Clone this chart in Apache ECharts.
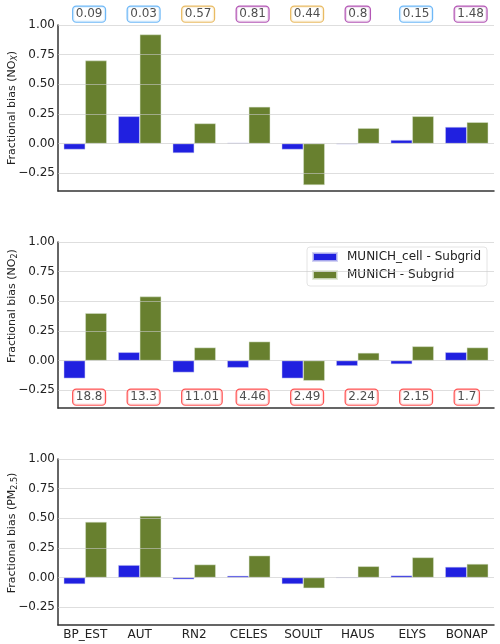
<!DOCTYPE html>
<html><head><meta charset="utf-8">
<script src="https://cdn.jsdelivr.net/npm/echarts@6/dist/echarts.min.js"></script>
<style>html,body{margin:0;padding:0;background:#fff}#c{width:500px;height:644px}</style>
</head><body><div id="c"></div>
<script>
const categories = ['BP_EST','AUT','RN2','CELES','SOULT','HAUS','ELYS','BONAP'];
const noxCell   = [-0.05, 0.23, -0.08, 0.005, -0.05, -0.005, 0.03, 0.14];
const noxMunich = [0.70, 0.92, 0.17, 0.31, -0.35, 0.13, 0.23, 0.18];
const no2Cell   = [-0.15, 0.07, -0.10, -0.06, -0.15, -0.045, -0.03, 0.07];
const no2Munich = [0.40, 0.54, 0.11, 0.16, -0.17, 0.065, 0.12, 0.11];
const pmCell    = [-0.055, 0.105, -0.015, 0.015, -0.055, 0.0, 0.017, 0.09];
const pmMunich  = [0.47, 0.52, 0.11, 0.185, -0.09, 0.095, 0.17, 0.115];
const topLabels = ['0.09','0.03','0.57','0.81','0.44','0.8','0.15','1.48'];
const topLabelGroup = ['blue','blue','gold','purple','gold','purple','blue','purple'];
const topLabelY = 1.1;
const no2Labels = ['18.8','13.3','11.01','4.46','2.49','2.24','2.15','1.7'];
const no2LabelY = -0.3;
const yTicks = [-0.25, 0, 0.25, 0.5, 0.75, 1.0];
const yMin = -0.4, yMax = 1.0;
const seriesNames = ['MUNICH_cell - Subgrid', 'MUNICH - Subgrid'];

const BLUE = '#2020e0', GREEN = '#68802f';
const boxColors = {blue:'#4aa6f5', gold:'#e3aa3c', purple:'#a02ca3', red:'#ff2a2a'};
const FONT = 'DejaVu Sans';
const tops = [25, 242, 459];
const nameShift = [0, 38, 18];
const panels = [
  {cell: noxCell, mun: noxMunich, title: 'Fractional bias (NO{ital|X}{a|)}'},
  {cell: no2Cell, mun: no2Munich, title: 'Fractional bias (NO{sub|2}{a|)}'},
  {cell: pmCell,  mun: pmMunich,  title: 'Fractional bias (PM{sub|2.5}{a|)}'}
];
const fmt = v => { const s = v.toFixed(2); return s.replace('-', '\u2212'); };

const grid = [], xAxis = [], yAxis = [], series = [];
panels.forEach((p, i) => {
  grid.push({left: 58, right: 6, top: tops[i], height: 166, containLabel: false, outerBoundsMode: 'none'});
  xAxis.push({
    type: 'category', gridIndex: i, data: categories, boundaryGap: true,
    axisLine: {onZero: false, lineStyle: {color: '#333', width: 1.5}},
    axisTick: {show: false},
    axisLabel: {show: i === 2, color: '#222', fontFamily: FONT, fontSize: 12, margin: 4, interval: 0}
  });
  yAxis.push({
    type: 'value', gridIndex: i, min: yMin, max: yMax,
    axisLine: {show: true, lineStyle: {color: '#333', width: 1.5}},
    axisTick: {show: false},
    splitLine: {show: false},
    axisLabel: {customValues: yTicks, formatter: fmt, color: '#222', fontFamily: FONT, fontSize: 12, margin: 3},
    name: p.title, nameLocation: 'middle', nameGap: 46, nameMoveOverlap: false,
    nameTextStyle: {color: '#222', fontFamily: FONT, fontSize: 11, verticalAlign: 'middle',
      padding: [0, 0, 0, nameShift[i]],
      rich: {
        a: {fontFamily: FONT, fontSize: 11, color: '#222'},
        sub: {fontFamily: FONT, fontSize: 8, color: '#222', padding: [5, 0, 0, 0]},
        ital: {fontFamily: FONT, fontSize: 8, fontStyle: 'italic', color: '#222', padding: [5, 0, 0, 0]}
      }}
  });
  series.push({
    name: seriesNames[0], type: 'bar', xAxisIndex: i, yAxisIndex: i, data: p.cell,
    barWidth: '39.5%', barGap: '0%',
    itemStyle: {color: BLUE, borderColor: 'rgba(200,200,240,0.8)', borderWidth: 0.6}
  });
  series.push({
    name: seriesNames[1], type: 'bar', xAxisIndex: i, yAxisIndex: i, data: p.mun,
    barWidth: '39.5%', barGap: '0%',
    itemStyle: {color: GREEN, borderColor: 'rgba(220,230,210,0.8)', borderWidth: 0.6},
    markLine: {
      silent: true, symbol: 'none', label: {show: false}, animation: false,
      lineStyle: {color: 'rgba(200,200,200,0.6)', type: 'solid', width: 1},
      data: yTicks.map(v => ({yAxis: v}))
    }
  });
});

const annLabel = {show: true, position: 'inside', align: 'left', offset: [-12, 1],
  fontFamily: FONT, fontSize: 12, color: '#222', backgroundColor: '#fff',
  borderWidth: 1.2, borderRadius: 3, padding: [2, 2.5, 1, 2.5]};

series.push({
  name: 'topAnn', type: 'scatter', xAxisIndex: 0, yAxisIndex: 0, symbolSize: 0, clip: false, silent: true,
  data: topLabels.map((t, k) => ({
    value: [categories[k], topLabelY],
    label: {borderColor: boxColors[topLabelGroup[k]]}
  })),
  label: Object.assign({}, annLabel, {formatter: p => topLabels[p.dataIndex]})
});
series.push({
  name: 'no2Ann', type: 'scatter', xAxisIndex: 1, yAxisIndex: 1, symbolSize: 0, clip: false, silent: true, z: 5,
  data: no2Labels.map((t, k) => ({value: [categories[k], no2LabelY]})),
  label: Object.assign({}, annLabel, {formatter: p => no2Labels[p.dataIndex], borderColor: boxColors.red})
});

const chart = echarts.init(document.getElementById('c'), null, {renderer: 'canvas'});
chart.setOption({
  animation: false,
  backgroundColor: '#fff',
  grid, xAxis, yAxis, series,
  legend: {
    data: seriesNames, orient: 'vertical', left: 307, top: 247,
    backgroundColor: '#fff', borderColor: '#e4e4e4', borderWidth: 1, borderRadius: 3,
    padding: [3, 6, 4, 5], itemGap: 4, itemWidth: 24, itemHeight: 8, icon: 'rect',
    textStyle: {fontFamily: FONT, fontSize: 12, color: '#222', padding: [0, 0, 0, 5], lineHeight: 14}
  }
});
</script></body></html>
